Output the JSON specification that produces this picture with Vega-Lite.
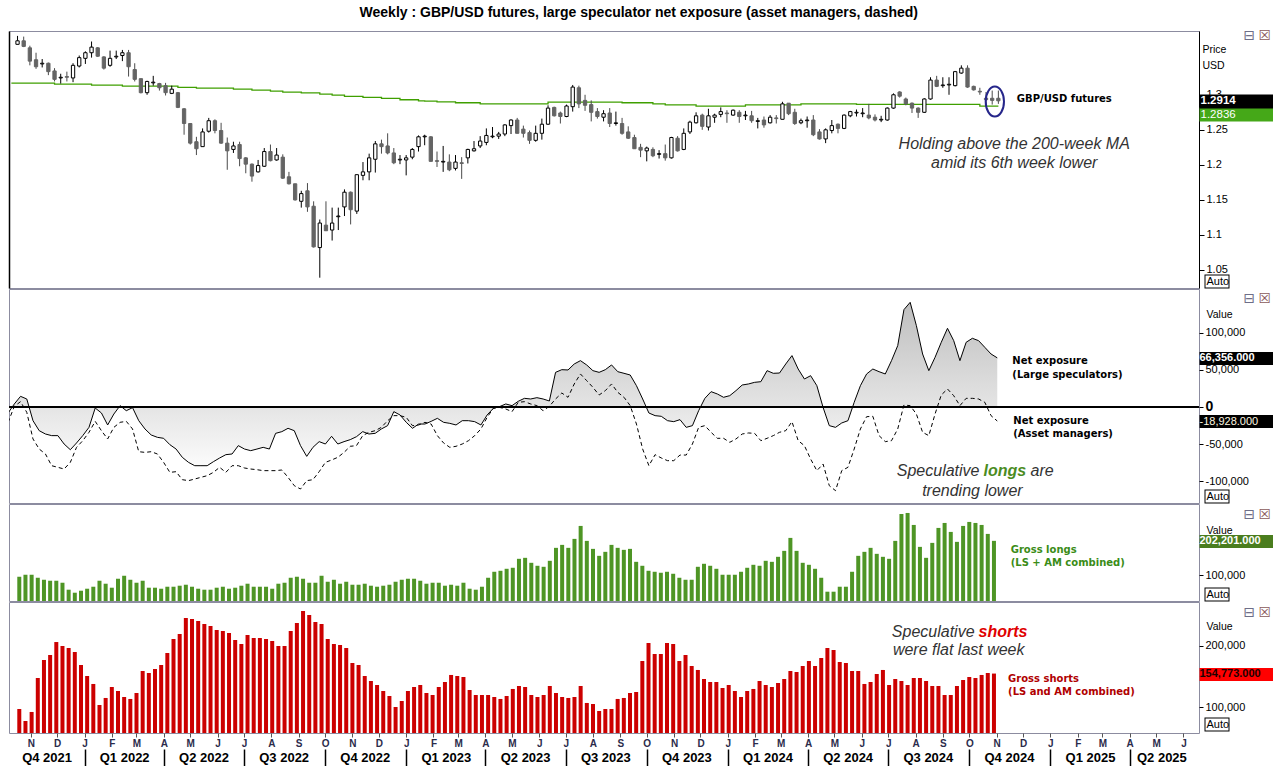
{
"$schema": "https://vega.github.io/schema/vega-lite/v6.json",
"padding": {"left": 8, "top": 5, "right": 0, "bottom": 0},
"background": "white",
"title": {"text": "Weekly : GBP/USD futures, large speculator net exposure (asset managers, dashed)", "font": "Liberation Sans", "fontSize": 14, "fontWeight": "bold", "color": "black", "anchor": "middle", "offset": 8, "dx": -6},
"config": {"view": {"stroke": "#8c8ca0", "strokeWidth": 1}, "axis": {"labelFont": "Liberation Sans", "titleFont": "Liberation Sans", "grid": false}, "text": {"font": "Liberation Sans"}},
"spacing": 1,
"bounds": "flush",
"datasets": {
"candles": [
{"d":"2021-10-10","ma":1.3167},
{"d":"2021-10-17","o":1.372,"h":1.384,"l":1.372,"c":1.377,"ma":1.3167},
{"d":"2021-10-24","o":1.377,"h":1.383,"l":1.368,"c":1.369,"ma":1.3167},
{"d":"2021-10-31","o":1.367,"h":1.370,"l":1.342,"c":1.348,"ma":1.3167},
{"d":"2021-11-07","o":1.350,"h":1.360,"l":1.337,"c":1.340,"ma":1.3167},
{"d":"2021-11-14","o":1.344,"h":1.351,"l":1.339,"c":1.345,"ma":1.3167},
{"d":"2021-11-21","o":1.345,"h":1.346,"l":1.328,"c":1.333,"ma":1.3167},
{"d":"2021-11-28","o":1.334,"h":1.338,"l":1.319,"c":1.322,"ma":1.3152},
{"d":"2021-12-05","o":1.324,"h":1.330,"l":1.316,"c":1.325,"ma":1.3152},
{"d":"2021-12-12","o":1.326,"h":1.333,"l":1.319,"c":1.325,"ma":1.3152},
{"d":"2021-12-19","o":1.324,"h":1.345,"l":1.318,"c":1.342,"ma":1.3152},
{"d":"2021-12-26","o":1.341,"h":1.356,"l":1.339,"c":1.353,"ma":1.3152},
{"d":"2022-01-02","o":1.352,"h":1.362,"l":1.344,"c":1.360,"ma":1.3152},
{"d":"2022-01-09","o":1.360,"h":1.376,"l":1.353,"c":1.368,"ma":1.3138},
{"d":"2022-01-16","o":1.367,"h":1.368,"l":1.354,"c":1.355,"ma":1.3138},
{"d":"2022-01-23","o":1.354,"h":1.355,"l":1.336,"c":1.338,"ma":1.3138},
{"d":"2022-01-30","o":1.342,"h":1.363,"l":1.340,"c":1.352,"ma":1.3138},
{"d":"2022-02-06","o":1.354,"h":1.363,"l":1.351,"c":1.355,"ma":1.3138},
{"d":"2022-02-13","o":1.356,"h":1.364,"l":1.348,"c":1.360,"ma":1.3124},
{"d":"2022-02-20","o":1.360,"h":1.364,"l":1.326,"c":1.340,"ma":1.3124},
{"d":"2022-02-27","o":1.336,"h":1.345,"l":1.319,"c":1.322,"ma":1.3124},
{"d":"2022-03-06","o":1.323,"h":1.323,"l":1.302,"c":1.303,"ma":1.3124},
{"d":"2022-03-13","o":1.303,"h":1.320,"l":1.300,"c":1.319,"ma":1.3124},
{"d":"2022-03-20","o":1.317,"h":1.327,"l":1.313,"c":1.318,"ma":1.3124},
{"d":"2022-03-27","o":1.316,"h":1.317,"l":1.306,"c":1.310,"ma":1.3124},
{"d":"2022-04-03","o":1.313,"h":1.317,"l":1.299,"c":1.303,"ma":1.3124},
{"d":"2022-04-10","o":1.302,"h":1.313,"l":1.301,"c":1.308,"ma":1.3124},
{"d":"2022-04-17","o":1.303,"h":1.304,"l":1.281,"c":1.282,"ma":1.3105},
{"d":"2022-04-24","o":1.280,"h":1.281,"l":1.243,"c":1.259,"ma":1.3105},
{"d":"2022-05-01","o":1.259,"h":1.259,"l":1.229,"c":1.231,"ma":1.3105},
{"d":"2022-05-08","o":1.233,"h":1.240,"l":1.214,"c":1.223,"ma":1.3095},
{"d":"2022-05-15","o":1.226,"h":1.252,"l":1.226,"c":1.247,"ma":1.3095},
{"d":"2022-05-22","o":1.248,"h":1.267,"l":1.246,"c":1.263,"ma":1.3095},
{"d":"2022-05-29","o":1.263,"h":1.265,"l":1.245,"c":1.249,"ma":1.3095},
{"d":"2022-06-05","o":1.249,"h":1.260,"l":1.230,"c":1.231,"ma":1.3095},
{"d":"2022-06-12","o":1.231,"h":1.239,"l":1.193,"c":1.220,"ma":1.3095},
{"d":"2022-06-19","o":1.222,"h":1.233,"l":1.217,"c":1.227,"ma":1.3081},
{"d":"2022-06-26","o":1.229,"h":1.233,"l":1.198,"c":1.209,"ma":1.3081},
{"d":"2022-07-03","o":1.210,"h":1.211,"l":1.188,"c":1.201,"ma":1.3081},
{"d":"2022-07-10","o":1.201,"h":1.202,"l":1.176,"c":1.184,"ma":1.3067},
{"d":"2022-07-17","o":1.190,"h":1.207,"l":1.189,"c":1.199,"ma":1.3067},
{"d":"2022-07-24","o":1.198,"h":1.224,"l":1.197,"c":1.219,"ma":1.3067},
{"d":"2022-07-31","o":1.219,"h":1.229,"l":1.205,"c":1.206,"ma":1.3052},
{"d":"2022-08-07","o":1.207,"h":1.224,"l":1.206,"c":1.214,"ma":1.3052},
{"d":"2022-08-14","o":1.211,"h":1.215,"l":1.180,"c":1.181,"ma":1.3038},
{"d":"2022-08-21","o":1.183,"h":1.190,"l":1.172,"c":1.173,"ma":1.3038},
{"d":"2022-08-28","o":1.173,"h":1.173,"l":1.149,"c":1.150,"ma":1.3038},
{"d":"2022-09-04","o":1.148,"h":1.163,"l":1.139,"c":1.159,"ma":1.3028},
{"d":"2022-09-11","o":1.163,"h":1.174,"l":1.133,"c":1.140,"ma":1.3028},
{"d":"2022-09-18","o":1.141,"h":1.148,"l":1.082,"c":1.083,"ma":1.3028},
{"d":"2022-09-25","o":1.082,"h":1.122,"l":1.039,"c":1.117,"ma":1.3009},
{"d":"2022-10-02","o":1.114,"h":1.148,"l":1.106,"c":1.106,"ma":1.3009},
{"d":"2022-10-09","o":1.107,"h":1.139,"l":1.092,"c":1.117,"ma":1.2995},
{"d":"2022-10-16","o":1.126,"h":1.139,"l":1.107,"c":1.127,"ma":1.2995},
{"d":"2022-10-23","o":1.140,"h":1.165,"l":1.127,"c":1.161,"ma":1.2976},
{"d":"2022-10-30","o":1.161,"h":1.162,"l":1.115,"c":1.136,"ma":1.2976},
{"d":"2022-11-06","o":1.134,"h":1.186,"l":1.130,"c":1.186,"ma":1.2976},
{"d":"2022-11-13","o":1.185,"h":1.204,"l":1.178,"c":1.190,"ma":1.2962},
{"d":"2022-11-20","o":1.190,"h":1.216,"l":1.178,"c":1.210,"ma":1.2962},
{"d":"2022-11-27","o":1.208,"h":1.234,"l":1.189,"c":1.230,"ma":1.2962},
{"d":"2022-12-04","o":1.230,"h":1.236,"l":1.216,"c":1.226,"ma":1.2948},
{"d":"2022-12-11","o":1.227,"h":1.245,"l":1.215,"c":1.217,"ma":1.2948},
{"d":"2022-12-18","o":1.217,"h":1.224,"l":1.201,"c":1.203,"ma":1.2948},
{"d":"2022-12-25","o":1.207,"h":1.214,"l":1.201,"c":1.208,"ma":1.2929},
{"d":"2023-01-01","o":1.207,"h":1.214,"l":1.185,"c":1.210,"ma":1.2929},
{"d":"2023-01-08","o":1.211,"h":1.224,"l":1.208,"c":1.222,"ma":1.2929},
{"d":"2023-01-15","o":1.226,"h":1.242,"l":1.219,"c":1.240,"ma":1.2914},
{"d":"2023-01-22","o":1.240,"h":1.243,"l":1.228,"c":1.241,"ma":1.2909},
{"d":"2023-01-29","o":1.240,"h":1.241,"l":1.205,"c":1.205,"ma":1.2909},
{"d":"2023-02-05","o":1.206,"h":1.219,"l":1.197,"c":1.205,"ma":1.2900},
{"d":"2023-02-12","o":1.204,"h":1.227,"l":1.190,"c":1.205,"ma":1.2900},
{"d":"2023-02-19","o":1.204,"h":1.215,"l":1.191,"c":1.193,"ma":1.2900},
{"d":"2023-02-26","o":1.195,"h":1.214,"l":1.192,"c":1.204,"ma":1.2886},
{"d":"2023-03-05","o":1.203,"h":1.211,"l":1.180,"c":1.202,"ma":1.2886},
{"d":"2023-03-12","o":1.210,"h":1.223,"l":1.202,"c":1.222,"ma":1.2886},
{"d":"2023-03-19","o":1.220,"h":1.234,"l":1.219,"c":1.223,"ma":1.2886},
{"d":"2023-03-26","o":1.227,"h":1.241,"l":1.224,"c":1.234,"ma":1.2871},
{"d":"2023-04-02","o":1.232,"h":1.252,"l":1.228,"c":1.242,"ma":1.2871},
{"d":"2023-04-09","o":1.240,"h":1.254,"l":1.238,"c":1.241,"ma":1.2871},
{"d":"2023-04-16","o":1.241,"h":1.247,"l":1.237,"c":1.244,"ma":1.2871},
{"d":"2023-04-23","o":1.244,"h":1.258,"l":1.241,"c":1.257,"ma":1.2871},
{"d":"2023-04-30","o":1.256,"h":1.265,"l":1.244,"c":1.264,"ma":1.2871},
{"d":"2023-05-07","o":1.264,"h":1.267,"l":1.245,"c":1.245,"ma":1.2871},
{"d":"2023-05-14","o":1.251,"h":1.256,"l":1.239,"c":1.245,"ma":1.2871},
{"d":"2023-05-21","o":1.246,"h":1.249,"l":1.230,"c":1.235,"ma":1.2871},
{"d":"2023-05-28","o":1.235,"h":1.256,"l":1.233,"c":1.245,"ma":1.2871},
{"d":"2023-06-04","o":1.245,"h":1.266,"l":1.236,"c":1.258,"ma":1.2871},
{"d":"2023-06-11","o":1.258,"h":1.285,"l":1.257,"c":1.281,"ma":1.2895},
{"d":"2023-06-18","o":1.282,"h":1.283,"l":1.269,"c":1.270,"ma":1.2895},
{"d":"2023-06-25","o":1.274,"h":1.276,"l":1.259,"c":1.269,"ma":1.2895},
{"d":"2023-07-02","o":1.269,"h":1.286,"l":1.268,"c":1.284,"ma":1.2895},
{"d":"2023-07-09","o":1.283,"h":1.314,"l":1.276,"c":1.311,"ma":1.2895},
{"d":"2023-07-16","o":1.310,"h":1.313,"l":1.281,"c":1.287,"ma":1.2895},
{"d":"2023-07-23","o":1.292,"h":1.300,"l":1.277,"c":1.285,"ma":1.2895},
{"d":"2023-07-30","o":1.286,"h":1.292,"l":1.262,"c":1.275,"ma":1.2895},
{"d":"2023-08-06","o":1.276,"h":1.281,"l":1.266,"c":1.269,"ma":1.2895},
{"d":"2023-08-13","o":1.268,"h":1.278,"l":1.262,"c":1.273,"ma":1.2895},
{"d":"2023-08-20","o":1.274,"h":1.281,"l":1.254,"c":1.259,"ma":1.2895},
{"d":"2023-08-27","o":1.259,"h":1.276,"l":1.256,"c":1.260,"ma":1.2895},
{"d":"2023-09-03","o":1.259,"h":1.267,"l":1.243,"c":1.245,"ma":1.2886},
{"d":"2023-09-10","o":1.247,"h":1.255,"l":1.237,"c":1.238,"ma":1.2886},
{"d":"2023-09-17","o":1.239,"h":1.243,"l":1.223,"c":1.223,"ma":1.2886},
{"d":"2023-09-24","o":1.225,"h":1.230,"l":1.211,"c":1.221,"ma":1.2886},
{"d":"2023-10-01","o":1.220,"h":1.226,"l":1.205,"c":1.224,"ma":1.2886},
{"d":"2023-10-08","o":1.222,"h":1.225,"l":1.211,"c":1.213,"ma":1.2871},
{"d":"2023-10-15","o":1.215,"h":1.221,"l":1.209,"c":1.216,"ma":1.2871},
{"d":"2023-10-22","o":1.216,"h":1.229,"l":1.206,"c":1.210,"ma":1.2857},
{"d":"2023-10-29","o":1.210,"h":1.240,"l":1.209,"c":1.239,"ma":1.2857},
{"d":"2023-11-05","o":1.238,"h":1.241,"l":1.219,"c":1.220,"ma":1.2857},
{"d":"2023-11-12","o":1.222,"h":1.252,"l":1.221,"c":1.245,"ma":1.2857},
{"d":"2023-11-19","o":1.247,"h":1.263,"l":1.244,"c":1.261,"ma":1.2857},
{"d":"2023-11-26","o":1.260,"h":1.275,"l":1.259,"c":1.270,"ma":1.2838},
{"d":"2023-12-03","o":1.271,"h":1.273,"l":1.250,"c":1.255,"ma":1.2838},
{"d":"2023-12-10","o":1.254,"h":1.280,"l":1.249,"c":1.270,"ma":1.2838},
{"d":"2023-12-17","o":1.268,"h":1.273,"l":1.260,"c":1.271,"ma":1.2838},
{"d":"2023-12-24","o":1.272,"h":1.282,"l":1.268,"c":1.276,"ma":1.2838},
{"d":"2023-12-31","o":1.274,"h":1.278,"l":1.260,"c":1.273,"ma":1.2838},
{"d":"2024-01-07","o":1.271,"h":1.279,"l":1.270,"c":1.278,"ma":1.2838},
{"d":"2024-01-14","o":1.275,"h":1.278,"l":1.260,"c":1.269,"ma":1.2838},
{"d":"2024-01-21","o":1.270,"h":1.277,"l":1.264,"c":1.271,"ma":1.2857},
{"d":"2024-01-28","o":1.270,"h":1.277,"l":1.260,"c":1.263,"ma":1.2857},
{"d":"2024-02-04","o":1.262,"h":1.267,"l":1.252,"c":1.263,"ma":1.2857},
{"d":"2024-02-11","o":1.264,"h":1.269,"l":1.253,"c":1.257,"ma":1.2857},
{"d":"2024-02-18","o":1.260,"h":1.271,"l":1.259,"c":1.268,"ma":1.2857},
{"d":"2024-02-25","o":1.267,"h":1.271,"l":1.259,"c":1.266,"ma":1.2857},
{"d":"2024-03-03","o":1.265,"h":1.290,"l":1.265,"c":1.287,"ma":1.2857},
{"d":"2024-03-10","o":1.288,"h":1.288,"l":1.271,"c":1.273,"ma":1.2857},
{"d":"2024-03-17","o":1.275,"h":1.280,"l":1.257,"c":1.259,"ma":1.2857},
{"d":"2024-03-24","o":1.260,"h":1.266,"l":1.258,"c":1.263,"ma":1.2871},
{"d":"2024-03-31","o":1.263,"h":1.269,"l":1.253,"c":1.264,"ma":1.2871},
{"d":"2024-04-07","o":1.264,"h":1.271,"l":1.241,"c":1.243,"ma":1.2871},
{"d":"2024-04-14","o":1.247,"h":1.251,"l":1.236,"c":1.237,"ma":1.2871},
{"d":"2024-04-21","o":1.237,"h":1.252,"l":1.231,"c":1.250,"ma":1.2871},
{"d":"2024-04-28","o":1.249,"h":1.264,"l":1.245,"c":1.256,"ma":1.2871},
{"d":"2024-05-05","o":1.258,"h":1.259,"l":1.245,"c":1.252,"ma":1.2871},
{"d":"2024-05-12","o":1.252,"h":1.272,"l":1.251,"c":1.271,"ma":1.2871},
{"d":"2024-05-19","o":1.270,"h":1.277,"l":1.268,"c":1.276,"ma":1.2871},
{"d":"2024-05-26","o":1.274,"h":1.279,"l":1.269,"c":1.275,"ma":1.2862},
{"d":"2024-06-02","o":1.273,"h":1.281,"l":1.268,"c":1.274,"ma":1.2862},
{"d":"2024-06-09","o":1.271,"h":1.287,"l":1.265,"c":1.267,"ma":1.2862},
{"d":"2024-06-16","o":1.268,"h":1.272,"l":1.262,"c":1.264,"ma":1.2862},
{"d":"2024-06-23","o":1.264,"h":1.270,"l":1.261,"c":1.265,"ma":1.2862},
{"d":"2024-06-30","o":1.264,"h":1.282,"l":1.263,"c":1.281,"ma":1.2862},
{"d":"2024-07-07","o":1.281,"h":1.302,"l":1.280,"c":1.300,"ma":1.2862},
{"d":"2024-07-14","o":1.304,"h":1.305,"l":1.296,"c":1.298,"ma":1.2862},
{"d":"2024-07-21","o":1.294,"h":1.296,"l":1.285,"c":1.287,"ma":1.2862},
{"d":"2024-07-28","o":1.288,"h":1.289,"l":1.274,"c":1.281,"ma":1.2862},
{"d":"2024-08-04","o":1.281,"h":1.282,"l":1.267,"c":1.275,"ma":1.2862},
{"d":"2024-08-11","o":1.275,"h":1.295,"l":1.274,"c":1.294,"ma":1.2862},
{"d":"2024-08-18","o":1.294,"h":1.325,"l":1.293,"c":1.321,"ma":1.2862},
{"d":"2024-08-25","o":1.321,"h":1.327,"l":1.311,"c":1.312,"ma":1.2862},
{"d":"2024-09-01","o":1.313,"h":1.325,"l":1.310,"c":1.314,"ma":1.2862},
{"d":"2024-09-08","o":1.314,"h":1.325,"l":1.300,"c":1.315,"ma":1.2862},
{"d":"2024-09-15","o":1.313,"h":1.334,"l":1.312,"c":1.333,"ma":1.2862},
{"d":"2024-09-22","o":1.331,"h":1.342,"l":1.330,"c":1.338,"ma":1.2862},
{"d":"2024-09-29","o":1.338,"h":1.342,"l":1.310,"c":1.311,"ma":1.2862},
{"d":"2024-10-06","o":1.312,"h":1.313,"l":1.306,"c":1.307,"ma":1.2862},
{"d":"2024-10-13","o":1.305,"h":1.310,"l":1.300,"c":1.304,"ma":1.2838},
{"d":"2024-10-20","o":1.295,"h":1.304,"l":1.286,"c":1.293,"ma":1.2838},
{"d":"2024-10-27","o":1.295,"h":1.306,"l":1.286,"c":1.292,"ma":1.2838},
{"d":"2024-11-03","o":1.295,"h":1.306,"l":1.287,"c":1.2914,"ma":1.2838}
],
"cot": [
{"d":"2021-10-12","ls":-8100,"am":-20700},
{"d":"2021-10-19","ls":4100,"am":900,"lg":96100,"sh":97300},
{"d":"2021-10-26","ls":14400,"am":7200,"lg":102000,"sh":77900},
{"d":"2021-11-02","ls":10800,"am":-7200,"lg":102000,"sh":92500},
{"d":"2021-11-09","ls":-18500,"am":-43200,"lg":93100,"sh":147600},
{"d":"2021-11-16","ls":-32000,"am":-56800,"lg":87200,"sh":176800},
{"d":"2021-11-23","ls":-36500,"am":-63500,"lg":84300,"sh":184900},
{"d":"2021-11-30","ls":-38700,"am":-79300,"lg":84300,"sh":205900},
{"d":"2021-12-07","ls":-38700,"am":-81500,"lg":78400,"sh":199500},
{"d":"2021-12-14","ls":-50000,"am":-83800,"lg":57800,"sh":196200},
{"d":"2021-12-21","ls":-57700,"am":-74800,"lg":48900,"sh":189700},
{"d":"2021-12-28","ls":-48600,"am":-54500,"lg":54800,"sh":168700},
{"d":"2022-01-04","ls":-38700,"am":-45500,"lg":60700,"sh":150800},
{"d":"2022-01-11","ls":-27500,"am":-34200,"lg":66600,"sh":137900},
{"d":"2022-01-18","ls":-1400,"am":-19400,"lg":84300,"sh":103800},
{"d":"2022-01-25","ls":-8100,"am":-32000,"lg":75500,"sh":115200},
{"d":"2022-02-01","ls":-24300,"am":-43200,"lg":63700,"sh":133000},
{"d":"2022-02-08","ls":-9500,"am":-27500,"lg":90200,"sh":126500},
{"d":"2022-02-15","ls":1800,"am":-20700,"lg":99000,"sh":116800},
{"d":"2022-02-22","ls":-5000,"am":-19400,"lg":87200,"sh":113600},
{"d":"2022-03-01","ls":-900,"am":-29700,"lg":78400,"sh":123300},
{"d":"2022-03-08","ls":-18500,"am":-60400,"lg":84300,"sh":158900},
{"d":"2022-03-15","ls":-29700,"am":-61300,"lg":63700,"sh":155700},
{"d":"2022-03-22","ls":-37800,"am":-60400,"lg":63700,"sh":162200},
{"d":"2022-03-29","ls":-41000,"am":-63500,"lg":60700,"sh":168700},
{"d":"2022-04-05","ls":-42300,"am":-74800,"lg":66600,"sh":188100},
{"d":"2022-04-12","ls":-50900,"am":-88300,"lg":66600,"sh":210800},
{"d":"2022-04-19","ls":-56800,"am":-87400,"lg":69600,"sh":218900},
{"d":"2022-04-26","ls":-68000,"am":-98200,"lg":72500,"sh":244800},
{"d":"2022-05-03","ls":-74800,"am":-99500,"lg":66600,"sh":243200},
{"d":"2022-05-10","ls":-79300,"am":-97300,"lg":60700,"sh":240000},
{"d":"2022-05-17","ls":-79300,"am":-95000,"lg":57800,"sh":235100},
{"d":"2022-05-24","ls":-79300,"am":-92800,"lg":57800,"sh":231900},
{"d":"2022-05-31","ls":-73900,"am":-88300,"lg":63700,"sh":225400},
{"d":"2022-06-07","ls":-68900,"am":-81500,"lg":66600,"sh":223800},
{"d":"2022-06-14","ls":-64400,"am":-88300,"lg":60700,"sh":220500},
{"d":"2022-06-21","ls":-63500,"am":-79300,"lg":63700,"sh":209200},
{"d":"2022-06-28","ls":-52200,"am":-79300,"lg":69600,"sh":202700},
{"d":"2022-07-05","ls":-56800,"am":-82400,"lg":75500,"sh":217300},
{"d":"2022-07-12","ls":-59000,"am":-83800,"lg":66600,"sh":212400},
{"d":"2022-07-19","ls":-56800,"am":-84700,"lg":66600,"sh":212400},
{"d":"2022-07-26","ls":-54500,"am":-86000,"lg":66600,"sh":210800},
{"d":"2022-08-02","ls":-56800,"am":-86000,"lg":60700,"sh":207600},
{"d":"2022-08-09","ls":-35600,"am":-86000,"lg":75500,"sh":199500},
{"d":"2022-08-16","ls":-33300,"am":-85100,"lg":78400,"sh":199500},
{"d":"2022-08-23","ls":-28800,"am":-95000,"lg":93100,"sh":223800},
{"d":"2022-08-30","ls":-32000,"am":-106300,"lg":96100,"sh":236700},
{"d":"2022-09-06","ls":-52200,"am":-110800,"lg":90200,"sh":256200},
{"d":"2022-09-13","ls":-66700,"am":-99500,"lg":78400,"sh":249700},
{"d":"2022-09-20","ls":-54500,"am":-98200,"lg":78400,"sh":238400},
{"d":"2022-09-27","ls":-46800,"am":-87400,"lg":99000,"sh":235100},
{"d":"2022-10-04","ls":-50000,"am":-74800,"lg":81300,"sh":210800},
{"d":"2022-10-11","ls":-39600,"am":-71600,"lg":87200,"sh":202700},
{"d":"2022-10-18","ls":-50000,"am":-68000,"lg":75500,"sh":201100},
{"d":"2022-10-25","ls":-46800,"am":-61300,"lg":81300,"sh":196200},
{"d":"2022-11-01","ls":-44100,"am":-53100,"lg":72500,"sh":171900},
{"d":"2022-11-08","ls":-40100,"am":-52200,"lg":72500,"sh":168700},
{"d":"2022-11-15","ls":-33300,"am":-38700,"lg":75500,"sh":150800},
{"d":"2022-11-22","ls":-36500,"am":-34200,"lg":69600,"sh":142700},
{"d":"2022-11-29","ls":-35600,"am":-32000,"lg":66600,"sh":136200},
{"d":"2022-12-06","ls":-29700,"am":-27500,"lg":69600,"sh":126500},
{"d":"2022-12-13","ls":-25200,"am":-18500,"lg":72500,"sh":118400},
{"d":"2022-12-20","ls":-6300,"am":-11700,"lg":81300,"sh":100600},
{"d":"2022-12-27","ls":-10800,"am":-11700,"lg":87200,"sh":110300},
{"d":"2023-01-03","ls":-20700,"am":-14000,"lg":90200,"sh":126500},
{"d":"2023-01-10","ls":-28800,"am":-25200,"lg":90200,"sh":133000},
{"d":"2023-01-17","ls":-23000,"am":-24300,"lg":84300,"sh":136200},
{"d":"2023-01-24","ls":-23000,"am":-20700,"lg":75500,"sh":123300},
{"d":"2023-01-31","ls":-19400,"am":-23000,"lg":78400,"sh":120000},
{"d":"2023-02-07","ls":-15300,"am":-38700,"lg":78400,"sh":133000},
{"d":"2023-02-14","ls":-20700,"am":-48600,"lg":69600,"sh":141100},
{"d":"2023-02-21","ls":-22100,"am":-54500,"lg":72500,"sh":152500},
{"d":"2023-02-28","ls":-24300,"am":-53100,"lg":69600,"sh":150800},
{"d":"2023-03-07","ls":-18500,"am":-50000,"lg":78400,"sh":149200},
{"d":"2023-03-14","ls":-18500,"am":-45500,"lg":60700,"sh":128100},
{"d":"2023-03-21","ls":-19800,"am":-38700,"lg":57800,"sh":120000},
{"d":"2023-03-28","ls":-24300,"am":-29700,"lg":66600,"sh":120000},
{"d":"2023-04-04","ls":-10800,"am":-14000,"lg":93100,"sh":120000},
{"d":"2023-04-11","ls":-1800,"am":-1800,"lg":110800,"sh":116800},
{"d":"2023-04-18","ls":500,"am":-500,"lg":113700,"sh":113600},
{"d":"2023-04-25","ls":4100,"am":-2700,"lg":119600,"sh":118400},
{"d":"2023-05-02","ls":1800,"am":-6300,"lg":122600,"sh":129800},
{"d":"2023-05-09","ls":7700,"am":6300,"lg":149100,"sh":134600},
{"d":"2023-05-16","ls":11700,"am":7200,"lg":152000,"sh":133000},
{"d":"2023-05-23","ls":10800,"am":4100,"lg":137300,"sh":120000},
{"d":"2023-05-30","ls":12600,"am":1800,"lg":128500,"sh":116800},
{"d":"2023-06-06","ls":10800,"am":-5000,"lg":125500,"sh":120000},
{"d":"2023-06-13","ls":8100,"am":900,"lg":143200,"sh":134600},
{"d":"2023-06-20","ls":46800,"am":10800,"lg":181500,"sh":123300},
{"d":"2023-06-27","ls":50400,"am":18900,"lg":190300,"sh":116800},
{"d":"2023-07-04","ls":50000,"am":13100,"lg":181500,"sh":115200},
{"d":"2023-07-11","ls":58100,"am":31100,"lg":208000,"sh":116800},
{"d":"2023-07-18","ls":62600,"am":44600,"lg":246300,"sh":134600},
{"d":"2023-07-25","ls":56800,"am":35600,"lg":202100,"sh":107100},
{"d":"2023-08-01","ls":49100,"am":26600,"lg":178500,"sh":105400},
{"d":"2023-08-08","ls":46800,"am":16200,"lg":157900,"sh":94100},
{"d":"2023-08-15","ls":50400,"am":22100,"lg":169700,"sh":97300},
{"d":"2023-08-22","ls":56800,"am":31100,"lg":190300,"sh":97300},
{"d":"2023-08-29","ls":47700,"am":19800,"lg":181500,"sh":113600},
{"d":"2023-09-05","ls":45500,"am":13100,"lg":175600,"sh":115200},
{"d":"2023-09-12","ls":43200,"am":1800,"lg":178500,"sh":123300},
{"d":"2023-09-19","ls":28800,"am":-23000,"lg":140200,"sh":124900},
{"d":"2023-09-26","ls":10800,"am":-56800,"lg":128500,"sh":175100},
{"d":"2023-10-03","ls":-8100,"am":-79300,"lg":113700,"sh":204300},
{"d":"2023-10-10","ls":-11700,"am":-64400,"lg":110800,"sh":186500},
{"d":"2023-10-17","ls":-12600,"am":-68900,"lg":107900,"sh":186500},
{"d":"2023-10-24","ls":-18500,"am":-72500,"lg":110800,"sh":204300},
{"d":"2023-10-31","ls":-19800,"am":-72500,"lg":104900,"sh":202700},
{"d":"2023-11-07","ls":-17100,"am":-64900,"lg":93100,"sh":175100},
{"d":"2023-11-14","ls":-27500,"am":-64900,"lg":87200,"sh":184900},
{"d":"2023-11-21","ls":-25200,"am":-50000,"lg":87200,"sh":167000},
{"d":"2023-11-28","ls":-5000,"am":-27500,"lg":125500,"sh":160600},
{"d":"2023-12-05","ls":11700,"am":-25200,"lg":134400,"sh":146000},
{"d":"2023-12-12","ls":20700,"am":-34200,"lg":128500,"sh":141100},
{"d":"2023-12-19","ls":17600,"am":-42300,"lg":119600,"sh":141100},
{"d":"2023-12-26","ls":13100,"am":-42300,"lg":102000,"sh":131400},
{"d":"2024-01-02","ls":15300,"am":-47700,"lg":102000,"sh":136200},
{"d":"2024-01-09","ls":22100,"am":-43200,"lg":102000,"sh":126500},
{"d":"2024-01-16","ls":29700,"am":-36500,"lg":110800,"sh":116800},
{"d":"2024-01-23","ls":31100,"am":-35100,"lg":122600,"sh":126500},
{"d":"2024-01-30","ls":33300,"am":-35600,"lg":131400,"sh":129800},
{"d":"2024-02-06","ls":34200,"am":-45500,"lg":128500,"sh":142700},
{"d":"2024-02-13","ls":49100,"am":-42300,"lg":143200,"sh":136200},
{"d":"2024-02-20","ls":45500,"am":-38700,"lg":140200,"sh":133000},
{"d":"2024-02-27","ls":45900,"am":-34200,"lg":155000,"sh":139500},
{"d":"2024-03-05","ls":58100,"am":-32000,"lg":172600,"sh":146000},
{"d":"2024-03-12","ls":69400,"am":-19800,"lg":210900,"sh":158900},
{"d":"2024-03-19","ls":51300,"am":-45500,"lg":172600,"sh":157300},
{"d":"2024-03-26","ls":37800,"am":-52200,"lg":137300,"sh":167000},
{"d":"2024-04-02","ls":42300,"am":-70300,"lg":131400,"sh":175100},
{"d":"2024-04-09","ls":28800,"am":-86000,"lg":119600,"sh":167000},
{"d":"2024-04-16","ls":-500,"am":-77000,"lg":93100,"sh":180000},
{"d":"2024-04-23","ls":-25200,"am":-106300,"lg":51900,"sh":196200},
{"d":"2024-04-30","ls":-27500,"am":-113000,"lg":51900,"sh":193000},
{"d":"2024-05-07","ls":-21600,"am":-86000,"lg":66600,"sh":173500},
{"d":"2024-05-14","ls":-18500,"am":-81500,"lg":66600,"sh":171900},
{"d":"2024-05-21","ls":6300,"am":-56800,"lg":110800,"sh":158900},
{"d":"2024-05-28","ls":28800,"am":-29700,"lg":157900,"sh":158900},
{"d":"2024-06-04","ls":44600,"am":-13100,"lg":169700,"sh":137900},
{"d":"2024-06-11","ls":51300,"am":-12600,"lg":181500,"sh":141100},
{"d":"2024-06-18","ls":47700,"am":-38700,"lg":163800,"sh":154100},
{"d":"2024-06-25","ls":44600,"am":-46800,"lg":155000,"sh":160600},
{"d":"2024-07-02","ls":62600,"am":-45500,"lg":149100,"sh":136200},
{"d":"2024-07-09","ls":82900,"am":-29700,"lg":202100,"sh":146000},
{"d":"2024-07-16","ls":131500,"am":2700,"lg":281600,"sh":142700},
{"d":"2024-07-23","ls":141400,"am":1800,"lg":284600,"sh":136200},
{"d":"2024-07-30","ls":109900,"am":-9500,"lg":249200,"sh":147600},
{"d":"2024-08-06","ls":71600,"am":-34200,"lg":184400,"sh":147600},
{"d":"2024-08-13","ls":49100,"am":-38700,"lg":152000,"sh":142700},
{"d":"2024-08-20","ls":67100,"am":-9500,"lg":196200,"sh":134600},
{"d":"2024-08-27","ls":87400,"am":16200,"lg":240400,"sh":134600},
{"d":"2024-09-03","ls":106300,"am":24300,"lg":255100,"sh":120000},
{"d":"2024-09-10","ls":89600,"am":15300,"lg":228600,"sh":120000},
{"d":"2024-09-17","ls":62600,"am":1800,"lg":199200,"sh":134600},
{"d":"2024-09-24","ls":87400,"am":11700,"lg":246300,"sh":144300},
{"d":"2024-10-01","ls":92800,"am":11700,"lg":258100,"sh":149200},
{"d":"2024-10-08","ls":89600,"am":10800,"lg":255100,"sh":147600},
{"d":"2024-10-15","ls":80600,"am":6300,"lg":249200,"sh":152500},
{"d":"2024-10-22","ls":71600,"am":-11700,"lg":222700,"sh":155700},
{"d":"2024-10-29","ls":66356,"am":-18928,"lg":202201,"sh":154773}
]
},
"vconcat": [
{
"width": 1190, "height": 257,
"data": {"name": "candles"},
"resolve": {"axis": {"y": "independent"}},
"layer": [
{"mark": {"type": "line", "color": "#3f9f00", "strokeWidth": 1.3, "interpolate": "step-after", "clip": true},
 "encoding": {
  "x": {"field": "d", "type": "temporal", "scale": {"type": "utc", "domain": [{"year": 2021, "month": 10, "date": 13, "utc": true}, {"year": 2025, "month": 6, "date": 13, "utc": true}]}, "axis": null},
  "y": {"field": "ma", "type": "quantitative", "scale": {"domain": [1.0243, 1.391], "zero": false, "nice": false},
   "axis": {"orient": "right", "values": [1.2836], "title": null, "domain": false, "grid": false, "tickSize": 75, "tickWidth": 14, "tickColor": "#45a818", "tickOffset": 8, "labelColor": "white", "labelFontSize": 11.5, "labelPadding": -74, "labelAlign": "left", "labelBaseline": "middle", "labelFlush": false, "labelOverlap": false, "labelBound": false, "format": ".4f", "zindex": 2}}
 }},
{"transform": [{"filter": "isValid(datum.o)"}],
 "mark": {"type": "rule", "strokeWidth": 1, "clip": true},
 "encoding": {
  "x": {"field": "d", "type": "temporal", "scale": {"type": "utc", "domain": [{"year": 2021, "month": 10, "date": 13, "utc": true}, {"year": 2025, "month": 6, "date": 13, "utc": true}]}, "axis": null},
  "y": {"field": "l", "type": "quantitative", "scale": {"domain": [1.0243, 1.391], "zero": false, "nice": false},
   "axis": {"orient": "right", "values": [1.2914], "title": null, "domain": false, "grid": false, "tickSize": 75, "tickWidth": 14, "tickColor": "black", "labelColor": "white", "labelFontWeight": "bold", "labelFontSize": 11.5, "labelPadding": -74, "labelAlign": "left", "labelBaseline": "middle", "labelFlush": false, "labelOverlap": false, "labelBound": false, "format": ".4f", "zindex": 2}},
  "y2": {"field": "h"},
  "color": {"condition": {"test": "datum.c >= datum.o", "value": "black"}, "value": "#4a4a4a"}
 }},
{"transform": [{"filter": "isValid(datum.o)"}],
 "mark": {"type": "bar", "width": 3.3, "strokeWidth": 1, "clip": true},
 "encoding": {
  "x": {"field": "d", "type": "temporal", "scale": {"type": "utc", "domain": [{"year": 2021, "month": 10, "date": 13, "utc": true}, {"year": 2025, "month": 6, "date": 13, "utc": true}]}, "axis": null},
  "y": {"field": "o", "type": "quantitative", "scale": {"domain": [1.0243, 1.391], "zero": false, "nice": false},
   "axis": {"orient": "right", "values": [1.05, 1.1, 1.15, 1.2, 1.25, 1.3], "format": ".2~f", "grid": false, "domain": true, "domainColor": "black", "tickSize": 5, "tickColor": "black", "labelColor": "black", "labelFontSize": 11, "labelPadding": 2, "labelFlush": false, "labelOverlap": false, "title": ["Price", "USD"], "titleAngle": 0, "titleAlign": "left", "titleBaseline": "top", "titleX": 3, "titleY": 13, "titleFontSize": 10.5, "titleFontWeight": "normal", "titleColor": "black", "titleLineHeight": 16, "zindex": 1}},
  "y2": {"field": "c"},
  "fill": {"condition": {"test": "datum.c >= datum.o", "value": "white"}, "value": "#646464"},
  "stroke": {"condition": {"test": "datum.c >= datum.o", "value": "black"}, "value": "#646464"}
 }},
{"data": {"values": [{"d": "2024-10-30", "v": 1.2904}]},
 "mark": {"type": "point", "shape": "M -0.61 0 A 0.61 1 0 1 0 0.61 0 A 0.61 1 0 1 0 -0.61 0 Z", "size": 900, "filled": false, "stroke": "#26268a", "strokeWidth": 2, "opacity": 1},
 "encoding": {
  "x": {"field": "d", "type": "temporal", "scale": {"type": "utc", "domain": [{"year": 2021, "month": 10, "date": 13, "utc": true}, {"year": 2025, "month": 6, "date": 13, "utc": true}]}, "axis": null},
  "y": {"field": "v", "type": "quantitative", "scale": {"domain": [1.0243, 1.391], "zero": false, "nice": false},
   "axis": {"orient": "right", "values": [1.0243], "offset": 5, "title": null, "domain": false, "grid": false, "labels": false, "tickSize": 25, "tickWidth": 14, "tickColor": "black", "tickOffset": -7, "zindex": 3}}
 }},
{"data": {"values": [{"d": "2024-11-24", "v": 1.2943, "t": "GBP/USD futures"}]},
 "mark": {"type": "text", "font": "DejaVu Sans", "fontWeight": "bold", "fontSize": 10, "align": "left", "baseline": "middle", "color": "black"},
 "encoding": {
  "x": {"field": "d", "type": "temporal", "scale": {"type": "utc", "domain": [{"year": 2021, "month": 10, "date": 13, "utc": true}, {"year": 2025, "month": 6, "date": 13, "utc": true}]}, "axis": null},
  "y": {"field": "v", "type": "quantitative", "scale": {"domain": [1.0243, 1.391], "zero": false, "nice": false},
   "axis": {"orient": "right", "values": [1.0243], "offset": 6, "title": null, "domain": false, "grid": false, "tickSize": 23, "tickWidth": 12, "tickColor": "white", "tickOffset": -7, "labelExpr": "'Auto'", "labelColor": "black", "labelFontSize": 11, "labelPadding": -22, "labelAlign": "left", "labelBaseline": "middle", "labelFlush": false, "labelOverlap": false, "labelBound": false, "zindex": 4}},
  "text": {"field": "t"}
 }},
{"data": {"values": [{"d": "2024-11-21", "v": 1.2300, "t": "Holding above the 200-week MA"}, {"d": "2024-11-21", "v": 1.2029, "t": "amid its 6th week lower"}]},
 "mark": {"type": "text", "font": "Liberation Sans", "fontStyle": "italic", "fontSize": 16, "align": "center", "baseline": "middle", "color": "#333333"},
 "encoding": {
  "x": {"field": "d", "type": "temporal", "scale": {"type": "utc", "domain": [{"year": 2021, "month": 10, "date": 13, "utc": true}, {"year": 2025, "month": 6, "date": 13, "utc": true}]}, "axis": null},
  "y": {"field": "v", "type": "quantitative", "scale": {"domain": [1.0243, 1.391], "zero": false, "nice": false},
   "axis": {"orient": "left", "values": [], "title": null, "domain": true, "domainColor": "black", "domainWidth": 1.5, "ticks": false, "labels": false, "grid": false}},
  "text": {"field": "t"}
 }},
{"data": {"values": []},
 "mark": {"type": "point"},
 "encoding": {
  "y": {"field": "v", "type": "quantitative", "scale": {"domain": [1.0243, 1.391], "zero": false, "nice": false},
   "axis": {"orient": "right", "values": [1.391], "title": null, "domain": false, "grid": false, "ticks": false, "labelExpr": "'\u229f'", "labelFont": "DejaVu Sans", "labelFontSize": 14, "labelColor": "#6e6e88", "labelPadding": 44, "labelOffset": 4, "labelAlign": "left", "labelBaseline": "middle", "labelFlush": false, "labelOverlap": false, "labelBound": false, "zindex": 3}}
 }},
{"data": {"values": []},
 "mark": {"type": "point"},
 "encoding": {
  "y": {"field": "v", "type": "quantitative", "scale": {"domain": [1.0243, 1.391], "zero": false, "nice": false},
   "axis": {"orient": "right", "values": [1.391], "title": null, "domain": false, "grid": false, "ticks": false, "labelExpr": "'\u2612'", "labelFont": "DejaVu Sans", "labelFontSize": 14, "labelColor": "#8a5a5a", "labelPadding": 59, "labelOffset": 4, "labelAlign": "left", "labelBaseline": "middle", "labelFlush": false, "labelOverlap": false, "labelBound": false, "zindex": 3}}
 }}
]
},
{
"width": 1190, "height": 214,
"data": {"name": "cot"},
"resolve": {"axis": {"y": "independent"}},
"layer": [
{"mark": {"type": "area", "clip": true, "color": {"gradient": "linear", "x1": 0, "y1": 0, "x2": 0, "y2": 1, "stops": [{"offset": 0, "color": "#bebebe"}, {"offset": 0.6, "color": "#e2e2e2"}, {"offset": 1, "color": "#fbfbfb"}]}},
 "encoding": {
  "x": {"field": "d", "type": "temporal", "scale": {"type": "utc", "domain": [{"year": 2021, "month": 10, "date": 13, "utc": true}, {"year": 2025, "month": 6, "date": 13, "utc": true}]}, "axis": null},
  "y": {"field": "ls", "type": "quantitative", "scale": {"domain": [-129700, 159400], "zero": false, "nice": false},
   "axis": {"orient": "right", "values": [-100000, -50000, 0, 50000, 100000], "labelExpr": "(datum.value < 0 ? '-' : '') + format(abs(datum.value), ',')", "grid": false, "domain": false, "tickSize": 4, "tickColor": "black", "labelColor": "black", "labelFontSize": {"condition": {"test": "datum.value === 0", "value": 14}, "value": 11}, "labelFontWeight": {"condition": {"test": "datum.value === 0", "value": "bold"}, "value": "normal"}, "labelPadding": 2, "labelFlush": false, "labelOverlap": false, "title": "Value", "titleAngle": 0, "titleAlign": "left", "titleBaseline": "middle", "titleX": 7, "titleY": 25, "titleFontSize": 10.5, "titleFontWeight": "normal", "titleColor": "black", "zindex": 1}},
  "y2": {"datum": 0}
 }},
{"mark": {"type": "rule", "color": "black", "strokeWidth": 1},
 "encoding": {
  "y": {"datum": 0, "type": "quantitative", "scale": {"domain": [-129700, 159400], "zero": false, "nice": false},
   "axis": {"orient": "right", "values": [-129700], "offset": 5, "title": null, "domain": false, "grid": false, "labels": false, "tickSize": 25, "tickWidth": 14, "tickColor": "black", "tickOffset": -7, "zindex": 3}}
 }},
{"mark": {"type": "line", "color": "black", "strokeWidth": 1, "clip": true},
 "encoding": {
  "x": {"field": "d", "type": "temporal", "scale": {"type": "utc", "domain": [{"year": 2021, "month": 10, "date": 13, "utc": true}, {"year": 2025, "month": 6, "date": 13, "utc": true}]}, "axis": null},
  "y": {"field": "ls", "type": "quantitative", "scale": {"domain": [-129700, 159400], "zero": false, "nice": false},
   "axis": {"orient": "right", "values": [66356], "title": null, "domain": false, "grid": false, "tickSize": 75, "tickWidth": 13, "tickColor": "black", "labelColor": "white", "labelFontWeight": "bold", "labelFontSize": 11, "labelPadding": -75, "labelAlign": "left", "labelBaseline": "middle", "labelFlush": false, "labelOverlap": false, "labelBound": false, "labelExpr": "(datum.value < 0 ? '-' : '') + format(abs(datum.value), ',.3f')", "zindex": 2}}
 }},
{"mark": {"type": "line", "color": "black", "strokeWidth": 1, "strokeDash": [4, 3], "clip": true},
 "encoding": {
  "x": {"field": "d", "type": "temporal", "scale": {"type": "utc", "domain": [{"year": 2021, "month": 10, "date": 13, "utc": true}, {"year": 2025, "month": 6, "date": 13, "utc": true}]}, "axis": null},
  "y": {"field": "am", "type": "quantitative", "scale": {"domain": [-129700, 159400], "zero": false, "nice": false},
   "axis": {"orient": "right", "values": [-18928], "title": null, "domain": false, "grid": false, "tickSize": 75, "tickWidth": 13, "tickColor": "black", "labelColor": "#fff8e0", "labelFontSize": 11, "labelPadding": -75, "labelAlign": "left", "labelBaseline": "middle", "labelFlush": false, "labelOverlap": false, "labelBound": false, "labelExpr": "(datum.value < 0 ? '-' : '') + format(abs(datum.value), ',.3f')", "zindex": 2}}
 }},
{"data": {"values": [{"d": "2024-11-15", "v": 62100, "t": "Net exposure"}, {"d": "2024-11-15", "v": 43200, "t": "(Large speculators)"}, {"d": "2024-11-16", "v": -18900, "t": "Net exposure"}, {"d": "2024-11-16", "v": -36500, "t": "(Asset managers)"}]},
 "mark": {"type": "text", "font": "DejaVu Sans", "fontWeight": "bold", "fontSize": 10, "align": "left", "baseline": "middle", "color": "black"},
 "encoding": {
  "x": {"field": "d", "type": "temporal", "scale": {"type": "utc", "domain": [{"year": 2021, "month": 10, "date": 13, "utc": true}, {"year": 2025, "month": 6, "date": 13, "utc": true}]}, "axis": null},
  "y": {"field": "v", "type": "quantitative", "scale": {"domain": [-129700, 159400], "zero": false, "nice": false},
   "axis": {"orient": "right", "values": [-129700], "offset": 6, "title": null, "domain": false, "grid": false, "tickSize": 23, "tickWidth": 12, "tickColor": "white", "tickOffset": -7, "labelExpr": "'Auto'", "labelColor": "black", "labelFontSize": 11, "labelPadding": -22, "labelAlign": "left", "labelBaseline": "middle", "labelFlush": false, "labelOverlap": false, "labelBound": false, "zindex": 4}},
  "text": {"field": "t"}
 }},
{"data": {"values": [{"d": "2024-10-09", "v": -86500, "t": "Speculative"}]},
 "mark": {"type": "text", "font": "Liberation Sans", "fontStyle": "italic", "fontSize": 16, "align": "right", "baseline": "middle", "color": "#333333"},
 "encoding": {
  "x": {"field": "d", "type": "temporal", "scale": {"type": "utc", "domain": [{"year": 2021, "month": 10, "date": 13, "utc": true}, {"year": 2025, "month": 6, "date": 13, "utc": true}]}, "axis": null},
  "y": {"field": "v", "type": "quantitative", "scale": {"domain": [-129700, 159400], "zero": false, "nice": false},
   "axis": {"orient": "right", "values": [159400], "title": null, "domain": false, "grid": false, "ticks": false, "labelExpr": "'\u229f'", "labelFont": "DejaVu Sans", "labelFontSize": 14, "labelColor": "#6e6e88", "labelPadding": 44, "labelOffset": 9, "labelAlign": "left", "labelBaseline": "middle", "labelFlush": false, "labelOverlap": false, "labelBound": false, "zindex": 3}},
  "text": {"field": "t"}
 }},
{"data": {"values": [{"d": "2024-10-09", "v": -86500, "t": "longs"}]},
 "mark": {"type": "text", "font": "Liberation Sans", "fontStyle": "italic", "fontWeight": "bold", "fontSize": 16, "align": "left", "baseline": "middle", "color": "#4b8c1f", "dx": 4},
 "encoding": {
  "x": {"field": "d", "type": "temporal", "scale": {"type": "utc", "domain": [{"year": 2021, "month": 10, "date": 13, "utc": true}, {"year": 2025, "month": 6, "date": 13, "utc": true}]}, "axis": null},
  "y": {"field": "v", "type": "quantitative", "scale": {"domain": [-129700, 159400], "zero": false, "nice": false},
   "axis": {"orient": "right", "values": [159400], "title": null, "domain": false, "grid": false, "ticks": false, "labelExpr": "'\u2612'", "labelFont": "DejaVu Sans", "labelFontSize": 14, "labelColor": "#8a5a5a", "labelPadding": 59, "labelOffset": 9, "labelAlign": "left", "labelBaseline": "middle", "labelFlush": false, "labelOverlap": false, "labelBound": false, "zindex": 3}},
  "text": {"field": "t"}
 }},
{"data": {"values": [{"d": "2024-10-09", "v": -86500, "t": "are"}]},
 "mark": {"type": "text", "font": "Liberation Sans", "fontStyle": "italic", "fontSize": 16, "align": "left", "baseline": "middle", "color": "#333333", "dx": 51},
 "encoding": {
  "x": {"field": "d", "type": "temporal", "scale": {"type": "utc", "domain": [{"year": 2021, "month": 10, "date": 13, "utc": true}, {"year": 2025, "month": 6, "date": 13, "utc": true}]}, "axis": null},
  "y": {"field": "v", "type": "quantitative", "scale": {"domain": [-129700, 159400], "zero": false, "nice": false}, "axis": null},
  "text": {"field": "t"}
 }},
{"data": {"values": [{"d": "2024-10-01", "v": -113500, "t": "trending lower"}]},
 "mark": {"type": "text", "font": "Liberation Sans", "fontStyle": "italic", "fontSize": 16, "align": "center", "baseline": "middle", "color": "#333333"},
 "encoding": {
  "x": {"field": "d", "type": "temporal", "scale": {"type": "utc", "domain": [{"year": 2021, "month": 10, "date": 13, "utc": true}, {"year": 2025, "month": 6, "date": 13, "utc": true}]}, "axis": null},
  "y": {"field": "v", "type": "quantitative", "scale": {"domain": [-129700, 159400], "zero": false, "nice": false}, "axis": null},
  "text": {"field": "t"}
 }}
]
},
{
"width": 1190, "height": 97,
"data": {"name": "cot"},
"resolve": {"axis": {"y": "independent"}},
"layer": [
{"transform": [{"filter": "isValid(datum.lg)"}],
 "mark": {"type": "bar", "width": 4, "color": "#4e9525", "clip": true},
 "encoding": {
  "x": {"field": "d", "type": "temporal", "scale": {"type": "utc", "domain": [{"year": 2021, "month": 10, "date": 13, "utc": true}, {"year": 2025, "month": 6, "date": 13, "utc": true}]}, "axis": null},
  "y": {"field": "lg", "type": "quantitative", "scale": {"domain": [24400, 311100], "zero": false, "nice": false},
   "axis": {"orient": "right", "values": [100000, 200000], "labelExpr": "format(datum.value, ',')", "grid": false, "domain": false, "tickSize": 4, "tickColor": "black", "labelColor": "black", "labelFontSize": 11, "labelPadding": 2, "labelFlush": false, "labelOverlap": false, "title": "Value", "titleAngle": 0, "titleAlign": "left", "titleBaseline": "middle", "titleX": 7, "titleY": 26, "titleFontSize": 10.5, "titleFontWeight": "normal", "titleColor": "black", "zindex": 1}}
 }},
{"data": {"values": [{"d": "2024-11-17", "v": 175700, "t": "Gross longs"}, {"d": "2024-11-17", "v": 137400, "t": "(LS + AM combined)"}]},
 "mark": {"type": "text", "font": "DejaVu Sans", "fontWeight": "bold", "fontSize": 10, "align": "left", "baseline": "middle", "color": "#3a8c17"},
 "encoding": {
  "x": {"field": "d", "type": "temporal", "scale": {"type": "utc", "domain": [{"year": 2021, "month": 10, "date": 13, "utc": true}, {"year": 2025, "month": 6, "date": 13, "utc": true}]}, "axis": null},
  "y": {"field": "v", "type": "quantitative", "scale": {"domain": [24400, 311100], "zero": false, "nice": false},
   "axis": {"orient": "right", "values": [202201], "title": null, "domain": false, "grid": false, "tickSize": 75, "tickWidth": 13, "tickColor": "#4a7d1e", "labelColor": "white", "labelFontWeight": "bold", "labelFontSize": 11, "labelPadding": -75, "labelAlign": "left", "labelBaseline": "middle", "labelFlush": false, "labelOverlap": false, "labelBound": false, "format": ",.3f", "zindex": 2}},
  "text": {"field": "t"}
 }},
{"data": {"values": []},
 "mark": {"type": "point"},
 "encoding": {
  "y": {"field": "v", "type": "quantitative", "scale": {"domain": [24400, 311100], "zero": false, "nice": false},
   "axis": {"orient": "right", "values": [24400], "offset": 5, "title": null, "domain": false, "grid": false, "labels": false, "tickSize": 25, "tickWidth": 14, "tickColor": "black", "tickOffset": -7, "zindex": 3}}
 }},
{"data": {"values": []},
 "mark": {"type": "point"},
 "encoding": {
  "y": {"field": "v", "type": "quantitative", "scale": {"domain": [24400, 311100], "zero": false, "nice": false},
   "axis": {"orient": "right", "values": [24400], "offset": 6, "title": null, "domain": false, "grid": false, "tickSize": 23, "tickWidth": 12, "tickColor": "white", "tickOffset": -7, "labelExpr": "'Auto'", "labelColor": "black", "labelFontSize": 11, "labelPadding": -22, "labelAlign": "left", "labelBaseline": "middle", "labelFlush": false, "labelOverlap": false, "labelBound": false, "zindex": 4}}
 }},
{"data": {"values": []},
 "mark": {"type": "point"},
 "encoding": {
  "y": {"field": "v", "type": "quantitative", "scale": {"domain": [24400, 311100], "zero": false, "nice": false},
   "axis": {"orient": "right", "values": [311100], "title": null, "domain": false, "grid": false, "ticks": false, "labelExpr": "'\u229f'", "labelFont": "DejaVu Sans", "labelFontSize": 14, "labelColor": "#6e6e88", "labelPadding": 44, "labelOffset": 10, "labelAlign": "left", "labelBaseline": "middle", "labelFlush": false, "labelOverlap": false, "labelBound": false, "zindex": 3}}
 }},
{"data": {"values": []},
 "mark": {"type": "point"},
 "encoding": {
  "y": {"field": "v", "type": "quantitative", "scale": {"domain": [24400, 311100], "zero": false, "nice": false},
   "axis": {"orient": "right", "values": [311100], "title": null, "domain": false, "grid": false, "ticks": false, "labelExpr": "'\u2612'", "labelFont": "DejaVu Sans", "labelFontSize": 14, "labelColor": "#8a5a5a", "labelPadding": 59, "labelOffset": 10, "labelAlign": "left", "labelBaseline": "middle", "labelFlush": false, "labelOverlap": false, "labelBound": false, "zindex": 3}}
 }}
]
},
{
"width": 1190, "height": 131,
"data": {"name": "cot"},
"resolve": {"axis": {"y": "independent", "x": "independent"}},
"layer": [
{"transform": [{"filter": "isValid(datum.sh)"}],
 "mark": {"type": "bar", "width": 4, "color": "#cc0000", "clip": true},
 "encoding": {
  "x": {"field": "d", "type": "temporal", "scale": {"type": "utc", "domain": [{"year": 2021, "month": 10, "date": 13, "utc": true}, {"year": 2025, "month": 6, "date": 13, "utc": true}]},
   "axis": {"orient": "bottom", "tickCount": {"interval": "month", "step": 1}, "labelExpr": "substring(utcFormat(datum.value, '%b'), 0, 1)", "tickSize": 4, "tickColor": "#555555", "domain": false, "grid": false, "labelFontSize": 10, "labelFontWeight": "bold", "labelColor": "#2b2b4b", "labelPadding": 1, "labelFlush": false, "labelOverlap": false, "title": null}},
  "y": {"field": "sh", "type": "quantitative", "scale": {"domain": [58400, 270800], "zero": false, "nice": false},
   "axis": {"orient": "right", "values": [100000, 200000], "labelExpr": "format(datum.value, ',')", "grid": false, "domain": false, "tickSize": 4, "tickColor": "black", "labelColor": "black", "labelFontSize": 11, "labelPadding": 2, "labelFlush": false, "labelOverlap": false, "title": "Value", "titleAngle": 0, "titleAlign": "left", "titleBaseline": "middle", "titleX": 7, "titleY": 24, "titleFontSize": 10.5, "titleFontWeight": "normal", "titleColor": "black", "zindex": 1}}
 }},
{"data": {"values": [{"d": "2024-11-14", "v": 146000, "t": "Gross shorts"}, {"d": "2024-11-14", "v": 124900, "t": "(LS and AM combined)"}]},
 "mark": {"type": "text", "font": "DejaVu Sans", "fontWeight": "bold", "fontSize": 10, "align": "left", "baseline": "middle", "color": "#b00000"},
 "encoding": {
  "x": {"field": "d", "type": "temporal", "scale": {"type": "utc", "domain": [{"year": 2021, "month": 10, "date": 13, "utc": true}, {"year": 2025, "month": 6, "date": 13, "utc": true}]},
   "axis": {"orient": "bottom", "values": [{"year": 2021, "month": 11, "date": 19, "utc": true}, {"year": 2022, "month": 2, "date": 15, "utc": true}, {"year": 2022, "month": 5, "date": 16, "utc": true}, {"year": 2022, "month": 8, "date": 15, "utc": true}, {"year": 2022, "month": 11, "date": 15, "utc": true}, {"year": 2023, "month": 2, "date": 15, "utc": true}, {"year": 2023, "month": 5, "date": 16, "utc": true}, {"year": 2023, "month": 8, "date": 15, "utc": true}, {"year": 2023, "month": 11, "date": 15, "utc": true}, {"year": 2024, "month": 2, "date": 15, "utc": true}, {"year": 2024, "month": 5, "date": 16, "utc": true}, {"year": 2024, "month": 8, "date": 15, "utc": true}, {"year": 2024, "month": 11, "date": 15, "utc": true}, {"year": 2025, "month": 2, "date": 15, "utc": true}, {"year": 2025, "month": 5, "date": 7, "utc": true}],
    "labelExpr": "'Q' + (floor(utcmonth(datum.value) / 3) + 1) + ' ' + utcyear(datum.value)", "ticks": false, "domain": false, "grid": false, "labelFontSize": 13, "labelFontWeight": "bold", "labelColor": "black", "labelPadding": 18, "labelFlush": false, "labelOverlap": false, "title": null}},
  "y": {"field": "v", "type": "quantitative", "scale": {"domain": [58400, 270800], "zero": false, "nice": false},
   "axis": {"orient": "right", "values": [154773], "title": null, "domain": false, "grid": false, "tickSize": 75, "tickWidth": 13, "tickColor": "#ff0000", "labelColor": "#1a0000", "labelFontWeight": "bold", "labelFontSize": 11, "labelPadding": -75, "labelAlign": "left", "labelBaseline": "middle", "labelFlush": false, "labelOverlap": false, "labelBound": false, "format": ",.3f", "zindex": 2}},
  "text": {"field": "t"}
 }},
{"data": {"values": [{"d": "2024-10-07", "v": 222200, "t": "Speculative"}]},
 "mark": {"type": "text", "font": "Liberation Sans", "fontStyle": "italic", "fontSize": 16, "align": "right", "baseline": "middle", "color": "#333333"},
 "encoding": {
  "x": {"field": "d", "type": "temporal", "scale": {"type": "utc", "domain": [{"year": 2021, "month": 10, "date": 13, "utc": true}, {"year": 2025, "month": 6, "date": 13, "utc": true}]},
   "axis": {"orient": "bottom", "values": [{"year": 2022, "month": 1, "date": 1, "utc": true}, {"year": 2022, "month": 4, "date": 1, "utc": true}, {"year": 2022, "month": 7, "date": 1, "utc": true}, {"year": 2022, "month": 10, "date": 1, "utc": true}, {"year": 2023, "month": 1, "date": 1, "utc": true}, {"year": 2023, "month": 4, "date": 1, "utc": true}, {"year": 2023, "month": 7, "date": 1, "utc": true}, {"year": 2023, "month": 10, "date": 1, "utc": true}, {"year": 2024, "month": 1, "date": 1, "utc": true}, {"year": 2024, "month": 4, "date": 1, "utc": true}, {"year": 2024, "month": 7, "date": 1, "utc": true}, {"year": 2024, "month": 10, "date": 1, "utc": true}, {"year": 2025, "month": 1, "date": 1, "utc": true}, {"year": 2025, "month": 4, "date": 1, "utc": true}],
    "labels": false, "domain": false, "grid": false, "tickSize": 18, "tickWidth": 1.5, "tickColor": "black", "offset": 16, "title": null}},
  "y": {"field": "v", "type": "quantitative", "scale": {"domain": [58400, 270800], "zero": false, "nice": false},
   "axis": {"orient": "right", "values": [58400], "offset": 5, "title": null, "domain": false, "grid": false, "labels": false, "tickSize": 25, "tickWidth": 14, "tickColor": "black", "tickOffset": -9, "zindex": 3}},
  "text": {"field": "t"}
 }},
{"data": {"values": [{"d": "2024-10-07", "v": 222200, "t": "shorts"}]},
 "mark": {"type": "text", "font": "Liberation Sans", "fontStyle": "italic", "fontWeight": "bold", "fontSize": 16, "align": "left", "baseline": "middle", "color": "#e00000", "dx": 4},
 "encoding": {
  "x": {"field": "d", "type": "temporal", "scale": {"type": "utc", "domain": [{"year": 2021, "month": 10, "date": 13, "utc": true}, {"year": 2025, "month": 6, "date": 13, "utc": true}]}, "axis": null},
  "y": {"field": "v", "type": "quantitative", "scale": {"domain": [58400, 270800], "zero": false, "nice": false},
   "axis": {"orient": "right", "values": [58400], "offset": 6, "title": null, "domain": false, "grid": false, "tickSize": 23, "tickWidth": 12, "tickColor": "white", "tickOffset": -9, "labelExpr": "'Auto'", "labelColor": "black", "labelFontSize": 11, "labelPadding": -22, "labelAlign": "left", "labelBaseline": "middle", "labelFlush": false, "labelOverlap": false, "labelBound": false, "zindex": 4}},
  "text": {"field": "t"}
 }},
{"data": {"values": [{"d": "2024-09-19", "v": 193000, "t": "were flat last week"}]},
 "mark": {"type": "text", "font": "Liberation Sans", "fontStyle": "italic", "fontSize": 16, "align": "center", "baseline": "middle", "color": "#333333"},
 "encoding": {
  "x": {"field": "d", "type": "temporal", "scale": {"type": "utc", "domain": [{"year": 2021, "month": 10, "date": 13, "utc": true}, {"year": 2025, "month": 6, "date": 13, "utc": true}]}, "axis": null},
  "y": {"field": "v", "type": "quantitative", "scale": {"domain": [58400, 270800], "zero": false, "nice": false},
   "axis": {"orient": "right", "values": [270800], "title": null, "domain": false, "grid": false, "ticks": false, "labelExpr": "'\u229f'", "labelFont": "DejaVu Sans", "labelFontSize": 14, "labelColor": "#6e6e88", "labelPadding": 44, "labelOffset": 10, "labelAlign": "left", "labelBaseline": "middle", "labelFlush": false, "labelOverlap": false, "labelBound": false, "zindex": 3}},
  "text": {"field": "t"}
 }},
{"data": {"values": []},
 "mark": {"type": "point"},
 "encoding": {
  "y": {"field": "v", "type": "quantitative", "scale": {"domain": [58400, 270800], "zero": false, "nice": false},
   "axis": {"orient": "right", "values": [270800], "title": null, "domain": false, "grid": false, "ticks": false, "labelExpr": "'\u2612'", "labelFont": "DejaVu Sans", "labelFontSize": 14, "labelColor": "#8a5a5a", "labelPadding": 59, "labelOffset": 10, "labelAlign": "left", "labelBaseline": "middle", "labelFlush": false, "labelOverlap": false, "labelBound": false, "zindex": 3}}
 }}
]
}
]
}
